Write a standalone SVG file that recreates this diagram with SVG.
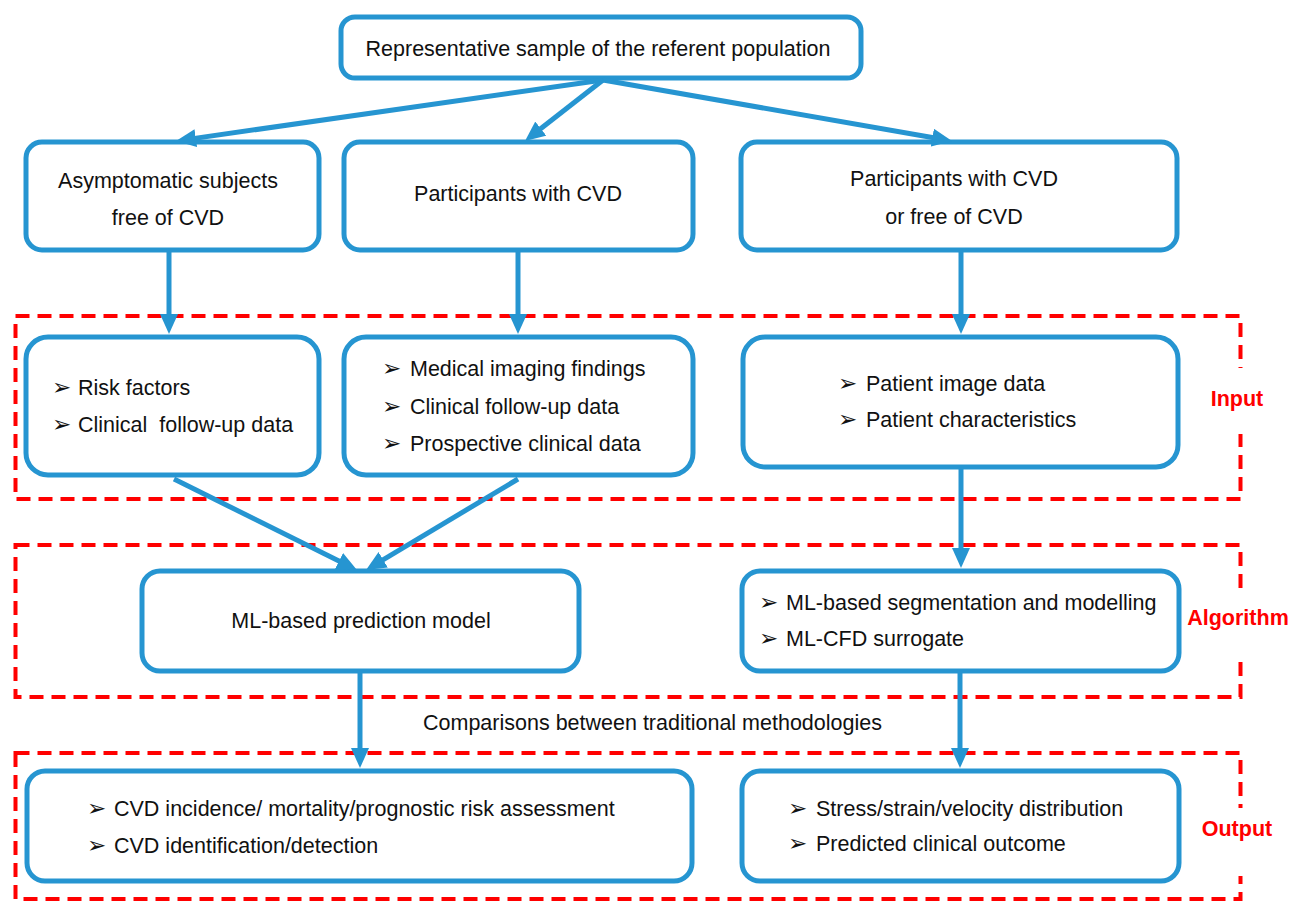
<svg xmlns="http://www.w3.org/2000/svg" width="1290" height="903" viewBox="0 0 1290 903">
<style>
.box{fill:#fff;stroke:#2695d1;stroke-width:5}
.zone{fill:none;stroke:#ff0000;stroke-width:4;stroke-dasharray:14 8}
.t{font-family:"Liberation Sans",Arial,sans-serif;font-size:21.5px;fill:#111}
.c{text-anchor:middle}
.b{font-family:"DejaVu Sans",sans-serif;font-size:23px;fill:#111}
.lab{font-family:"Liberation Sans",Arial,sans-serif;font-size:21.5px;font-weight:bold;fill:#ff0000;text-anchor:middle}
.con{stroke:#2695d1;stroke-width:5;fill:none;marker-end:url(#ah)}
</style>
<defs>
<marker id="ah" viewBox="0 0 20 18" refX="10" refY="9" markerWidth="20" markerHeight="18" markerUnits="userSpaceOnUse" orient="auto">
<path d="M0,0 L20,9 L0,18 Z" fill="#2695d1"/>
</marker>
</defs>
<rect width="1290" height="903" fill="#fff"/>
<g id="zones">
<g id="zone-input">
<rect class="zone" x="15.5" y="316" width="1225" height="183"/>
<rect x="1225" y="368" width="30" height="66" fill="#fff"/>
<text class="lab" x="1237" y="406">Input</text>
</g>
<g id="zone-algorithm">
<rect class="zone" x="15.5" y="545" width="1225" height="152"/>
<rect x="1225" y="588" width="30" height="71" fill="#fff"/>
<text class="lab" x="1238" y="625">Algorithm</text>
</g>
<g id="zone-output">
<rect class="zone" x="15.5" y="753" width="1225" height="146"/>
<rect x="1225" y="808" width="30" height="68" fill="#fff"/>
<text class="lab" x="1237" y="836">Output</text>
</g>
</g>
<g id="n-top"><rect class="box" x="341" y="17" width="520" height="61" rx="14"/>
<text class="t c" x="598" y="56">Representative sample of the referent population</text></g>
<g id="n-a"><rect class="box" x="26" y="142" width="293" height="108" rx="16"/>
<text class="t c" x="168" y="188">Asymptomatic subjects</text>
<text class="t c" x="168" y="225">free of CVD</text></g>
<g id="n-b"><rect class="box" x="344" y="142" width="349" height="108" rx="16"/>
<text class="t c" x="518" y="201">Participants with CVD</text></g>
<g id="n-c"><rect class="box" x="741" y="142" width="436" height="108" rx="16"/>
<text class="t c" x="954" y="186">Participants with CVD</text>
<text class="t c" x="954" y="224">or free of CVD</text></g>
<g id="n-d"><rect class="box" x="26" y="337" width="293" height="138" rx="22"/>
<text class="b" x="52" y="395">➢</text><text class="t" x="78" y="395">Risk factors</text>
<text class="b" x="52" y="432">➢</text><text class="t" x="78" y="432" xml:space="preserve">Clinical  follow-up data</text></g>
<g id="n-e"><rect class="box" x="344" y="337" width="349" height="138" rx="22"/>
<text class="b" x="382" y="376">➢</text><text class="t" x="410" y="376">Medical imaging findings</text>
<text class="b" x="382" y="414">➢</text><text class="t" x="410" y="414">Clinical follow-up data</text>
<text class="b" x="382" y="451">➢</text><text class="t" x="410" y="451">Prospective clinical data</text></g>
<g id="n-f"><rect class="box" x="743" y="337" width="435" height="130" rx="22"/>
<text class="b" x="838" y="391">➢</text><text class="t" x="866" y="391">Patient image data</text>
<text class="b" x="838" y="427">➢</text><text class="t" x="866" y="427">Patient characteristics</text></g>
<g id="n-g"><rect class="box" x="142" y="571" width="437" height="100" rx="18"/>
<text class="t c" x="361" y="628">ML-based prediction model</text></g>
<g id="n-h"><rect class="box" x="742" y="571" width="437" height="100" rx="18"/>
<text class="b" x="759" y="610">➢</text><text class="t" x="786" y="610">ML-based segmentation and modelling</text>
<text class="b" x="759" y="646">➢</text><text class="t" x="786" y="646">ML-CFD surrogate</text></g>
<g id="n-i"><rect class="box" x="27" y="771" width="665" height="110" rx="18"/>
<text class="b" x="87" y="816">➢</text><text class="t" x="114" y="816">CVD incidence/ mortality/prognostic risk assessment</text>
<text class="b" x="87" y="853">➢</text><text class="t" x="114" y="853">CVD identification/detection</text></g>
<g id="n-j"><rect class="box" x="742" y="771" width="437" height="110" rx="18"/>
<text class="b" x="788" y="816">➢</text><text class="t" x="816" y="816">Stress/strain/velocity distribution</text>
<text class="b" x="788" y="851">➢</text><text class="t" x="816" y="851">Predicted clinical outcome</text></g>
<text id="comparisons" class="t" x="423" y="730">Comparisons between traditional methodologies</text>
<g id="connectors">
<line class="con" x1="603" y1="80" x2="185.9" y2="139.6"/>
<line class="con" x1="603" y1="80" x2="532.9" y2="134.8"/>
<line class="con" x1="603" y1="80" x2="942.2" y2="139.3"/>
<line class="con" x1="169" y1="252" x2="169" y2="324"/>
<line class="con" x1="518" y1="252" x2="518" y2="324"/>
<line class="con" x1="961" y1="252" x2="961" y2="324"/>
<line class="con" x1="174" y1="479" x2="348" y2="565.5"/>
<line class="con" x1="518" y1="479" x2="374.6" y2="564.9"/>
<line class="con" x1="961" y1="469" x2="961" y2="558"/>
<line class="con" x1="360" y1="673" x2="360" y2="758"/>
<line class="con" x1="960" y1="673" x2="960" y2="758"/>
</g>
</svg>
